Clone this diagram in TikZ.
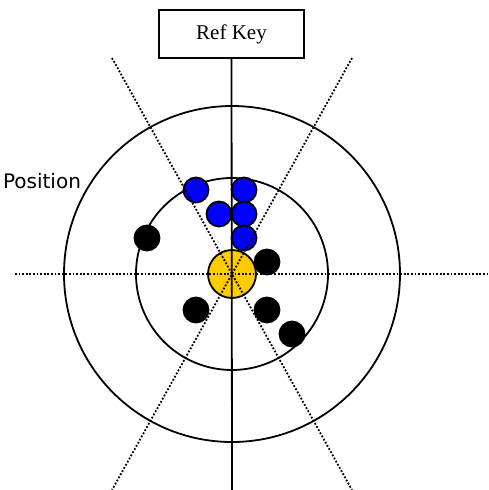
\documentclass[tikz,border=0pt]{standalone}
\usepackage{fontspec}
\setmainfont{Liberation Serif}
\newfontfamily\posfont{DejaVu Sans}
\definecolor{gold}{RGB}{255,204,0}
\definecolor{dotblue}{RGB}{0,0,255}
\tikzset{
  shot/.style={circle,draw,line width=1.8pt,inner sep=0pt,minimum size=25pt},
  guide/.style={line width=1.8pt,dash pattern=on 1.8pt off 1.8pt}
}
\begin{document}
\begin{tikzpicture}[x=1pt,y=-1pt,line width=1.8pt]
            \useasboundingbox (0,0) rectangle (488,490);
            \coordinate (c) at (232,274);
            \draw (c) circle[radius=168pt];
            \draw (c) circle[radius=96pt];
            \node (key) at (231.5,34)[draw,fill=white,minimum width=145pt,minimum height=48pt,font=\fontsize{21}{24}\selectfont]{Ref Key};
            \node (pos) at (42,181)[font=\posfont\fontsize{20}{24}\selectfont]{Position};
            \foreach \x/\y [count=\i] in {196/190,244/190,219/214,244/214,244/238}
            {
                \node (b\i) at (\x,\y)[shot,fill=dotblue]{};
            }
            \foreach \x/\y [count=\i] in {147/238,267/262,196/310,267/310,292/334}
            {
                \node (k\i) at (\x,\y)[shot,fill=black]{};
            }
            \node (ctr) at (c)[shot,fill=gold,minimum size=48pt]{};
            \coordinate (w) at (15,274);
            \coordinate (e) at (488,274);
            \coordinate (nw) at (112,58);
            \coordinate (se) at (352,490);
            \coordinate (ne) at (352,58);
            \coordinate (sw) at (112,490);
            \coordinate (bottom) at (232,490);
            \draw[guide] (w) -- (e);
            \draw[guide] (nw) -- (se);
            \draw[guide] (ne) -- (sw);
            \draw (key.south) -- (bottom);
        \end{tikzpicture}
\end{document}
